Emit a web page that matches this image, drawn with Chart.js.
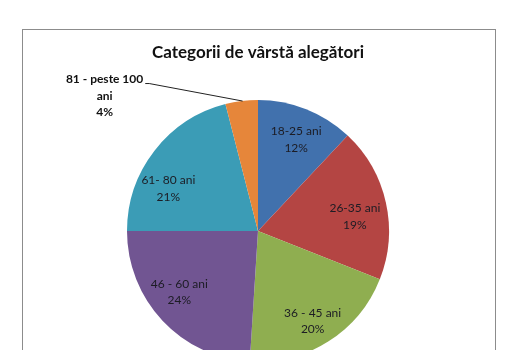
<!DOCTYPE html>
<html>
<head>
<meta charset="utf-8">
<script src="https://cdn.jsdelivr.net/npm/chart.js@4"></script>
<style>
  html, body { margin: 0; padding: 0; background: #ffffff; overflow: hidden; }
  #chart { display: block; }
</style>
</head>
<body>
<canvas id="chart" width="525" height="362"></canvas>
<script>
// age groups of voters, pie chart in the old excel look

// the data
const categories = [["18-25 ani"], ["26-35 ani"], ["36 - 45 ani"], ["46 - 60 ani"], ["61- 80 ani"], ["81 - peste 100", "ani"]];
const shares = [12, 19, 20, 24, 21, 4];
const slice_colors = ["#4171ad", "#b44543", "#8fae50", "#715592", "#3b9cb6", "#e6863a"];
const chart_title = "Categorii de vârstă alegători";

const font_family = "Lato, 'Liberation Sans', sans-serif";

// nudges for the labels inside the slices (excel moves them around a bit)
const label_nudge = [[2, 0], [1, 7], [2, 7], [-7, -6], [-12, 18], [0, 0]];

// the frame around the whole chart
const frame_plugin = {
  id: "frame",
  beforeDraw(chart) {
    const ctx = chart.ctx;
    ctx.save();
    ctx.strokeStyle = "#8c8c8c";
    ctx.lineWidth = 1;
    ctx.strokeRect(22.5, 29.5, 473, 400);
    ctx.restore();
  }
};

// draws the category + percent labels, last one goes outside with a line
const labels_plugin = {
  id: "slice_labels",
  afterDatasetsDraw(chart) {
    const ctx = chart.ctx;
    const meta = chart.getDatasetMeta(0);
    const values = chart.data.datasets[0].data;
    const total = values.reduce((a, b) => a + b, 0);
    ctx.save();
    ctx.textAlign = "center";
    ctx.textBaseline = "middle";
    meta.data.forEach(function(arc, i) {
      const p = arc.getProps(["x", "y", "startAngle", "endAngle", "outerRadius"], true);
      const mid = (p.startAngle + p.endAngle) / 2;
      const pct = Math.round(values[i] / total * 100) + "%";
      const lines = chart.data.labels[i].concat([pct]);
      if (i < meta.data.length - 1) {
        const r = p.outerRadius * 0.75;
        const cx = p.x + Math.cos(mid) * r + label_nudge[i][0];
        const cy = p.y + Math.sin(mid) * r + label_nudge[i][1];
        ctx.font = "12px " + font_family;
        ctx.fillStyle = "#1c1c24";
        lines.forEach(function(s, k) {
          ctx.fillText(s, cx, cy + (k - (lines.length - 1) / 2) * 16.5);
        });
      } else {
        // outside label with a leader line
        const ex = p.x + Math.cos(mid) * p.outerRadius;
        const ey = p.y + Math.sin(mid) * p.outerRadius;
        const cx = ex - 137;
        const cy = ey - 5;
        ctx.font = "bold 12px " + font_family;
        ctx.fillStyle = "#111111";
        lines.forEach(function(s, k) {
          ctx.fillText(s, cx, cy + (k - (lines.length - 1) / 2) * 16.5);
        });
        const w = ctx.measureText(lines[0]).width;
        const ly = cy - 16.5 + 4;
        ctx.strokeStyle = "#222222";
        ctx.lineWidth = 1;
        ctx.beginPath();
        ctx.moveTo(cx + w / 2 + 2, ly);
        ctx.lineTo(cx + w / 2 + 6, ly);
        ctx.lineTo(ex + 1, ey);
        ctx.stroke();
      }
    });
    ctx.restore();
  }
};

function init_chart() {
  const config = {
    type: "pie",
    data: {
      labels: categories,
      datasets: [{
        data: shares,
        backgroundColor: slice_colors,
        borderWidth: 0
      }]
    },
    options: {
      responsive: false,
      animation: false,
      layout: {
        padding: { top: 30, left: 127, right: 136, bottom: 0 }
      },
      plugins: {
        legend: { display: false },
        tooltip: { enabled: false },
        title: {
          display: true,
          text: chart_title,
          color: "#111111",
          font: { family: font_family, size: 17, weight: "bold", lineHeight: 1.2 },
          padding: { top: 12, bottom: 37.6 }
        }
      }
    },
    plugins: [frame_plugin, labels_plugin]
  };
  return new Chart(document.getElementById("chart").getContext("2d"), config);
}

init_chart();
</script>
</body>
</html>
